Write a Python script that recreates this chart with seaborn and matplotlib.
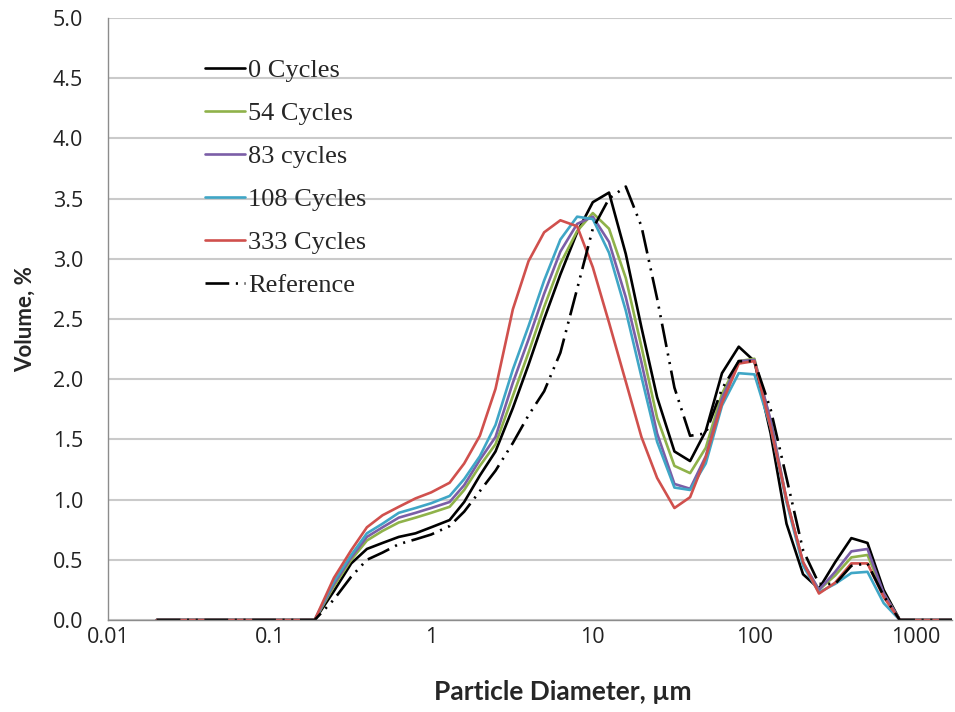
import numpy as np
import pandas as pd
import matplotlib
matplotlib.use("Agg")
import matplotlib.pyplot as plt
import matplotlib.ticker as mticker
import seaborn as sns

# ---------------------------------------------------------------------------
# Data
# ---------------------------------------------------------------------------

diameter = [0.02, 0.05, 0.1, 0.15, 0.19, 0.25, 0.32, 0.4, 0.5, 0.63, 0.8, 1.0,
            1.3, 1.6, 2.0, 2.5, 3.2, 4.0, 5.0, 6.3, 8.0, 10, 12.6, 16, 20, 25,
            32, 40, 50, 63, 80, 100, 126, 158, 200, 251, 316, 398, 501, 631,
            794, 1000, 2000]

cycles_0 = [0, 0, 0, 0, 0, 0.24, 0.47, 0.59, 0.64, 0.69, 0.72, 0.77,
            0.83, 0.98, 1.20, 1.40, 1.76, 2.12, 2.50, 2.87, 3.22, 3.47, 3.55, 3.04, 2.43, 1.85,
            1.40, 1.32, 1.57, 2.05, 2.27, 2.15, 1.55, 0.80, 0.38, 0.26, 0.48, 0.68, 0.64, 0.25,
            0, 0, 0]

cycles_54 = [0, 0, 0, 0, 0, 0.28, 0.50, 0.66, 0.74, 0.81, 0.85, 0.89,
             0.94, 1.08, 1.28, 1.46, 1.86, 2.22, 2.60, 2.96, 3.23, 3.38, 3.25, 2.84, 2.27, 1.68,
             1.28, 1.22, 1.43, 1.88, 2.15, 2.17, 1.65, 1.00, 0.47, 0.25, 0.37, 0.52, 0.54, 0.22,
             0, 0, 0]

cycles_83 = [0, 0, 0, 0, 0, 0.30, 0.52, 0.69, 0.77, 0.85, 0.89, 0.93,
             0.98, 1.12, 1.33, 1.52, 1.97, 2.33, 2.71, 3.06, 3.29, 3.35, 3.14, 2.68, 2.14, 1.55,
             1.13, 1.09, 1.36, 1.84, 2.15, 2.16, 1.66, 1.00, 0.48, 0.25, 0.40, 0.57, 0.59, 0.22,
             0, 0, 0]

cycles_108 = [0, 0, 0, 0, 0, 0.32, 0.54, 0.72, 0.80, 0.89, 0.93, 0.97,
              1.03, 1.17, 1.36, 1.62, 2.08, 2.44, 2.82, 3.16, 3.35, 3.33, 3.05, 2.57, 2.02, 1.48,
              1.10, 1.08, 1.30, 1.78, 2.05, 2.04, 1.60, 0.98, 0.45, 0.23, 0.30, 0.39, 0.40, 0.14,
              0, 0, 0]

cycles_333 = [0, 0, 0, 0, 0, 0.35, 0.58, 0.77, 0.87, 0.94, 1.01, 1.06,
              1.14, 1.30, 1.53, 1.92, 2.58, 2.98, 3.22, 3.32, 3.27, 2.93, 2.47, 1.98, 1.52, 1.18,
              0.93, 1.02, 1.35, 1.80, 2.13, 2.15, 1.60, 1.00, 0.48, 0.22, 0.31, 0.47, 0.47, 0.19,
              0, 0, 0]

reference = [0, 0, 0, 0, 0, 0.17, 0.36, 0.50, 0.56, 0.63, 0.67, 0.71,
             0.78, 0.90, 1.07, 1.24, 1.47, 1.70, 1.90, 2.22, 2.75, 3.25, 3.50, 3.60, 3.27, 2.67,
             1.93, 1.53, 1.55, 1.92, 2.15, 2.15, 1.75, 1.18, 0.58, 0.30, 0.30, 0.45, 0.47, 0.20,
             0, 0, 0]

labels = ["0 Cycles", "54 Cycles", "83 cycles", "108 Cycles", "333 Cycles", "Reference"]
colors = ["#000000", "#8FB24A", "#7B5EA7", "#3FA6C6", "#D0504D", "#000000"]

series = [cycles_0, cycles_54, cycles_83, cycles_108, cycles_333, reference]

y_ticks = [0.0, 0.5, 1.0, 1.5, 2.0, 2.5, 3.0, 3.5, 4.0, 4.5, 5.0]
x_ticks = [0.01, 0.1, 1, 10, 100, 1000]
x_ticklabels = ["0.01", "0.1", "1", "10", "100", "1000"]

# ---------------------------------------------------------------------------
# Plot
# ---------------------------------------------------------------------------

sns.set_theme(style="white")
plt.rcParams["font.family"] = ["Lato", "DejaVu Sans"]

fig = plt.figure(figsize=(9.55, 7.12), dpi=100)
ax = fig.add_axes([108 / 955, 92 / 712, 844 / 955, 602 / 712])

dashdot = (0, (9, 2.5, 0.8, 2.5, 0.8, 2.5))
for label, color, vals in zip(labels, colors, series):
    df = pd.DataFrame({"d": diameter, "v": vals})
    ls = dashdot if label == "Reference" else "-"
    sns.lineplot(data=df, x="d", y="v", ax=ax, color=color, linewidth=1.9,
                 linestyle=ls, label=label, sort=False)

ax.set_xscale("log")
ax.set_xlim(0.01, 10 ** (844 / 161.6 - 2))   # 161.6 px per decade, cropped at right
ax.set_ylim(0, 5.0)
ax.set_xticks(x_ticks)
ax.set_xticklabels(x_ticklabels)
ax.xaxis.set_minor_locator(mticker.LogLocator(base=10, subs=np.arange(2, 10)))
ax.xaxis.set_minor_formatter(mticker.NullFormatter())
ax.set_yticks(y_ticks)
ax.yaxis.set_major_formatter(mticker.FormatStrFormatter("%.1f"))
ax.yaxis.set_minor_locator(mticker.MultipleLocator(0.1))

ax.grid(axis="y", which="major", color="#cacaca", linewidth=1.5)
ax.set_axisbelow(True)
for side in ["top", "right"]:
    ax.spines[side].set_visible(False)
for side in ["left", "bottom"]:
    ax.spines[side].set_color("#8c8c8c")
    ax.spines[side].set_linewidth(1.0)

ax.tick_params(axis="both", which="both", direction="in", color="#8c8c8c",
               labelcolor="#222222")
for lab in ax.get_xticklabels() + ax.get_yticklabels():
    lab.set_family(["Open Sans", "DejaVu Sans"])
    lab.set_fontsize(15.5)
ax.tick_params(axis="y", which="major", length=7, pad=18)
ax.tick_params(axis="y", which="minor", length=5)
ax.tick_params(axis="x", which="major", length=7, pad=5)
ax.tick_params(axis="x", which="minor", length=5)

ax.set_xlabel("Particle Diameter, µm", fontsize=19, fontweight="bold")
ax.xaxis.set_label_coords(0.539, -0.100)
ax.set_ylabel("Volume, %", fontsize=16, fontweight="bold", labelpad=12)

leg = ax.legend(loc="upper left", bbox_to_anchor=(0.115, 0.933), frameon=False,
                prop={"family": "Liberation Serif", "size": 19},
                handlelength=1.5, handletextpad=0.12, labelspacing=0.74,
                borderpad=0, borderaxespad=0)

fig.savefig("out.png", dpi=100)
